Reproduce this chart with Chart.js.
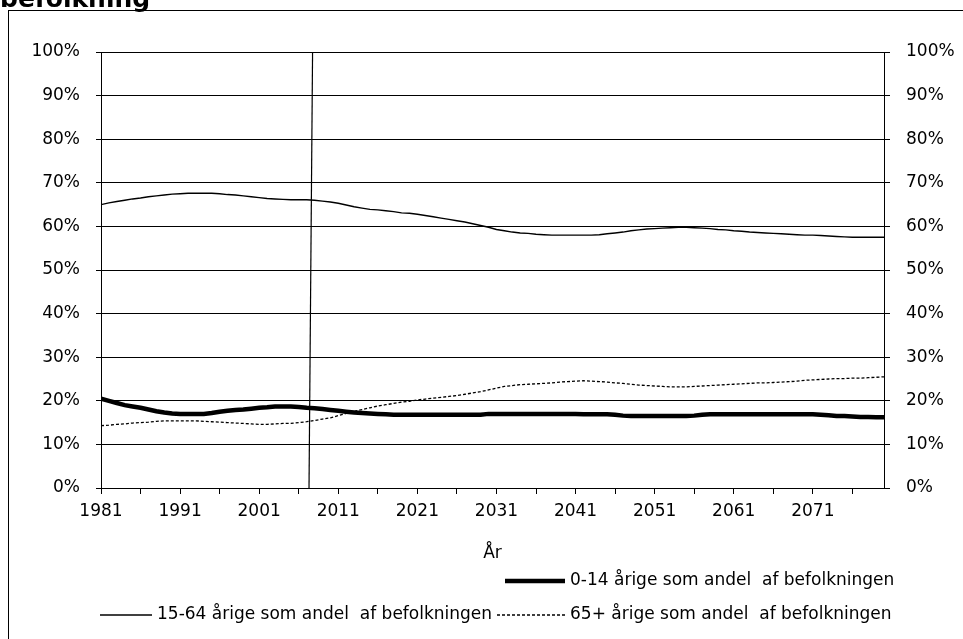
<!DOCTYPE html>
<html>
<head>
<meta charset="utf-8">
<script src="https://cdn.jsdelivr.net/npm/chart.js@4.4.1/dist/chart.umd.min.js"></script>
<style>
  html, body { margin: 0; padding: 0; background: #fff; }
  #wrap { width: 963px; height: 639px; }
</style>
</head>
<body>
<div id="wrap"><canvas id="chart" width="963" height="639"></canvas></div>
<script>
// data (andele i procent, 1981-2080)
const firstYear = 1981;
const lastYear = 2080;
const tickYears = [1981, 1986, 1991, 1996, 2001, 2006, 2011, 2016, 2021, 2026, 2031, 2036, 2041, 2046, 2051, 2056, 2061, 2066, 2071, 2076];
const tickLabels = ['1981', '1991', '2001', '2011', '2021', '2031', '2041', '2051', '2061', '2071'];

const young = [
  20.5, 20.0, 19.5, 19.0, 18.7, 18.4, 18.0, 17.6, 17.3, 17.1,
  17.0, 17.0, 17.0, 17.0, 17.2, 17.5, 17.7, 17.9, 18.0, 18.2,
  18.4, 18.5, 18.7, 18.7, 18.7, 18.6, 18.4, 18.3, 18.1, 17.9,
  17.7, 17.5, 17.3, 17.2, 17.1, 17.0, 16.9, 16.8, 16.8, 16.8,
  16.8, 16.8, 16.8, 16.8, 16.8, 16.8, 16.8, 16.8, 16.8, 17.0,
  17.0, 17.0, 17.0, 17.0, 17.0, 17.0, 17.0, 17.0, 17.0, 17.0,
  17.0, 16.9, 16.9, 16.9, 16.9, 16.8, 16.6, 16.5, 16.5, 16.5,
  16.5, 16.5, 16.5, 16.5, 16.5, 16.6, 16.8, 16.9, 16.9, 16.9,
  16.9, 16.9, 16.9, 16.9, 16.9, 16.9, 16.9, 16.9, 16.9, 16.9,
  16.9, 16.8, 16.7, 16.5, 16.5, 16.4, 16.3, 16.3, 16.2, 16.2
];
const working = [
  65.0, 65.4, 65.7, 66.0, 66.3, 66.5, 66.8, 67.0, 67.2, 67.4,
  67.5, 67.6, 67.6, 67.6, 67.6, 67.5, 67.3, 67.2, 67.0, 66.8,
  66.6, 66.4, 66.3, 66.2, 66.1, 66.1, 66.1, 66.0, 65.8, 65.6,
  65.3, 64.9, 64.5, 64.2, 63.9, 63.8, 63.6, 63.4, 63.1, 63.0,
  62.8, 62.5, 62.2, 61.9, 61.6, 61.3, 61.0, 60.6, 60.2, 59.8,
  59.3, 59.0, 58.7, 58.5, 58.4, 58.2, 58.1, 58.0, 58.0, 58.0,
  58.0, 58.0, 58.0, 58.1, 58.3, 58.5, 58.7, 59.0, 59.2, 59.4,
  59.5, 59.6, 59.7, 59.8, 59.8, 59.7, 59.6, 59.5, 59.3, 59.2,
  59.0, 58.9, 58.7, 58.6, 58.5, 58.4, 58.3, 58.2, 58.1, 58.0,
  58.0, 57.9, 57.8, 57.7, 57.6, 57.5, 57.5, 57.5, 57.5, 57.5
];
const elderly = [
  14.3, 14.4, 14.6, 14.7, 14.9, 15.0, 15.1, 15.3, 15.4, 15.4,
  15.4, 15.4, 15.4, 15.3, 15.2, 15.1, 15.0, 14.9, 14.8, 14.7,
  14.6, 14.6, 14.7, 14.8, 14.8, 15.0, 15.2, 15.5, 15.8, 16.1,
  16.6, 17.1, 17.6, 18.0, 18.4, 18.8, 19.1, 19.4, 19.7, 19.9,
  20.2, 20.4, 20.6, 20.8, 21.0, 21.2, 21.5, 21.8, 22.1, 22.5,
  22.9, 23.3, 23.5, 23.7, 23.8, 23.9, 24.0, 24.1, 24.3, 24.4,
  24.5, 24.6, 24.5, 24.4, 24.3, 24.1, 24.0, 23.8, 23.6, 23.5,
  23.4, 23.3, 23.2, 23.2, 23.2, 23.3, 23.4, 23.5, 23.6, 23.7,
  23.8, 23.9, 24.0, 24.1, 24.1, 24.2, 24.3, 24.4, 24.5, 24.7,
  24.8, 24.9, 25.0, 25.1, 25.1, 25.2, 25.2, 25.3, 25.4, 25.5
];

// lodret markering (fremskrivningens start)
const markerX = [2007.3, 2007.75];
const markerY = [0, 100];

const seriesLabels = [
  '0-14 årige som andel  af befolkningen',
  '15-64 årige som andel  af befolkningen',
  '65+ årige som andel  af befolkningen'
];

const years = [];
for (let y = firstYear; y <= lastYear; y++) years.push(y);
const toPoints = arr => arr.map((v, i) => ({ x: years[i], y: v }));

const FONT = 'DejaVu Sans';

// ramme, titel og forklaring
const decorations = {
  id: 'decorations',
  beforeDraw(chart) {
    const c = chart.ctx;
    c.save();
    c.strokeStyle = '#000';
    c.lineWidth = 1;
    c.strokeRect(8.5, 10.5, 1000, 1000);
    c.fillStyle = '#000';
    c.font = 'bold 25px ' + FONT;
    c.textBaseline = 'alphabetic';
    c.fillText('befolkning', 0, 7);
    c.restore();
  },
  afterDraw(chart) {
    const c = chart.ctx;
    const ds = chart.data.datasets;
    const items = [
      { i: 0, x1: 505, x2: 565, tx: 570, y: 581 },
      { i: 1, x1: 100, x2: 152, tx: 157, y: 615 },
      { i: 2, x1: 497, x2: 565, tx: 570, y: 615 }
    ];
    c.save();
    c.font = '17px ' + FONT;
    c.textBaseline = 'middle';
    c.fillStyle = '#000';
    items.forEach(it => {
      const d = ds[it.i];
      c.strokeStyle = d.borderColor;
      c.lineWidth = d.borderWidth;
      c.setLineDash(d.borderDash || []);
      c.beginPath();
      c.moveTo(it.x1, it.y);
      c.lineTo(it.x2, it.y);
      c.stroke();
      c.setLineDash([]);
      c.fillText(d.label, it.tx, it.y);
    });
    c.restore();
  }
};

const tickFont = { family: FONT, size: 17 };

new Chart(document.getElementById('chart').getContext('2d'), {
  type: 'line',
  data: {
    datasets: [
      {
        label: seriesLabels[0],
        data: toPoints(young),
        borderColor: '#000',
        borderWidth: 4.5,
        pointRadius: 0,
        yAxisID: 'y'
      },
      {
        label: seriesLabels[1],
        data: toPoints(working),
        borderColor: '#000',
        borderWidth: 1.4,
        pointRadius: 0,
        yAxisID: 'y'
      },
      {
        label: seriesLabels[2],
        data: toPoints(elderly),
        borderColor: '#000',
        borderWidth: 1.3,
        borderDash: [3, 2],
        pointRadius: 0,
        yAxisID: 'y'
      },
      {
        label: 'markering',
        data: markerX.map((x, i) => ({ x: x, y: markerY[i] })),
        borderColor: '#000',
        borderWidth: 1.2,
        pointRadius: 0,
        yAxisID: 'y'
      }
    ]
  },
  options: {
    responsive: false,
    animation: false,
    events: [],
    layout: {
      padding: { left: 0, right: 0, top: 52, bottom: 77 }
    },
    plugins: {
      legend: { display: false },
      tooltip: { enabled: false }
    },
    scales: {
      x: {
        type: 'linear',
        min: firstYear,
        max: lastYear,
        afterBuildTicks: scale => {
          scale.ticks = tickYears.map(v => ({ value: v }));
        },
        afterFit: scale => { scale.height = 74; },
        ticks: {
          autoSkip: false,
          maxRotation: 0,
          padding: 7,
          color: '#000',
          font: tickFont,
          callback: value => {
            const s = String(value);
            return tickLabels.includes(s) ? s : '';
          }
        },
        grid: {
          drawOnChartArea: false,
          tickLength: 6,
          color: '#000'
        },
        border: { color: '#000', width: 1 },
        title: {
          display: true,
          text: 'År',
          color: '#000',
          font: tickFont,
          padding: { top: 0, bottom: -2 }
        }
      },
      y: {
        position: 'left',
        min: 0,
        max: 100,
        afterFit: scale => { scale.width = 101; },
        ticks: {
          stepSize: 10,
          padding: 16,
          color: '#000',
          font: tickFont,
          callback: v => v + '%'
        },
        grid: {
          color: '#000',
          lineWidth: 1,
          tickLength: 5
        },
        border: { color: '#000', width: 1 }
      },
      y2: {
        position: 'right',
        min: 0,
        max: 100,
        afterFit: scale => { scale.width = 79; },
        ticks: {
          stepSize: 10,
          padding: 16,
          color: '#000',
          font: tickFont,
          callback: v => v + '%'
        },
        grid: {
          drawOnChartArea: false,
          color: '#000',
          tickLength: 6
        },
        border: { color: '#000', width: 1 }
      }
    }
  },
  plugins: [decorations]
});
</script>
</body>
</html>
